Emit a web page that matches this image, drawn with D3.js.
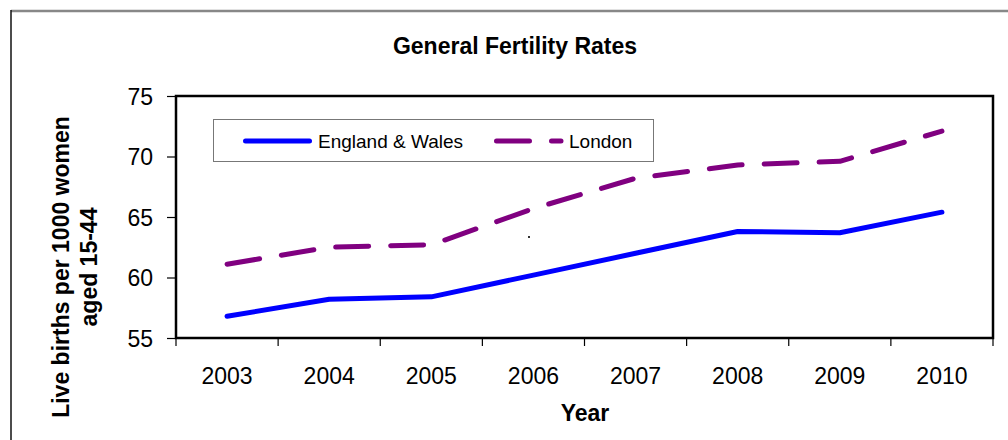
<!DOCTYPE html>
<html>
<head>
<meta charset="utf-8">
<script src="https://cdn.jsdelivr.net/npm/d3@7"></script>
<style>
  html, body { margin: 0; padding: 0; background: #fff; }
  svg { display: block; font-family: "Liberation Sans", Arial, sans-serif; }
</style>
</head>
<body>
<svg id="chart" width="1008" height="440"></svg>
<script>
// General fertility rates: live births per 1000 women aged 15-44
const years = ["2003", "2004", "2005", "2006", "2007", "2008", "2009", "2010"];
const englandWales = [56.8, 58.2, 58.4, 60.2, 62.0, 63.8, 63.7, 65.4];
const london = [61.1, 62.5, 62.7, 65.7, 68.2, 69.3, 69.6, 72.1];
const yTicks = [55, 60, 65, 70, 75];
const seriesNames = ["England & Wales", "London"];

const svg = d3.select("#chart");

// Outer chart frame (top and left edges)
svg.append("line").attr("x1", 11).attr("x2", 1008).attr("y1", 11).attr("y2", 11)
  .attr("stroke", "#888").attr("stroke-width", 2.5);
svg.append("line").attr("x1", 11).attr("x2", 11).attr("y1", 10).attr("y2", 440)
  .attr("stroke", "#111").attr("stroke-width", 1.5);

const plot = { left: 176, right: 993, top: 96, bottom: 338 };

const x = d3.scaleBand().domain(years).range([plot.left, plot.right]).padding(0);
const y = d3.scaleLinear().domain([55, 75]).range([plot.bottom, plot.top]);
const cx = d => x(d) + x.bandwidth() / 2;

// Title
svg.append("text").attr("x", 515).attr("y", 54).attr("text-anchor", "middle")
  .attr("font-size", 23).attr("font-weight", "bold").text("General Fertility Rates");

// Y axis
const yAxis = d3.axisLeft(y).tickValues(yTicks).tickSize(9).tickPadding(14).tickFormat(d3.format("d"));
const gy = svg.append("g").attr("transform", `translate(${plot.left},0)`).call(yAxis);
gy.select(".domain").remove();
gy.selectAll(".tick line").attr("stroke", "#000").attr("stroke-width", 1.2);
gy.selectAll(".tick text").attr("font-size", 23).attr("fill", "#000")
  .attr("font-family", "'Liberation Sans', Arial, sans-serif").attr("dy", "0.36em");

// X axis: ticks on category boundaries, labels at category centres
const boundaries = years.map(d => x(d)).concat([x(years[years.length - 1]) + x.bandwidth()]);
svg.append("g").selectAll("line").data(boundaries).join("line")
  .attr("x1", d => d).attr("x2", d => d)
  .attr("y1", plot.bottom).attr("y2", plot.bottom + 8)
  .attr("stroke", "#000").attr("stroke-width", 1.2);
svg.append("g").selectAll("text").data(years).join("text")
  .attr("x", d => cx(d)).attr("y", 384).attr("text-anchor", "middle")
  .attr("font-size", 23).text(d => d);

// Plot area border
svg.append("rect").attr("x", plot.left).attr("y", plot.top)
  .attr("width", plot.right - plot.left).attr("height", plot.bottom - plot.top)
  .attr("fill", "none").attr("stroke", "#000").attr("stroke-width", 2.5);

// Axis titles
svg.append("text").attr("x", 585).attr("y", 421).attr("text-anchor", "middle")
  .attr("font-size", 23).attr("font-weight", "bold").text("Year");
const yt = svg.append("text").attr("transform", "translate(0,267) rotate(-90)")
  .attr("text-anchor", "middle").attr("font-size", 23).attr("font-weight", "bold");
yt.append("tspan").attr("x", 0).attr("y", 69).text("Live births per 1000 women");
yt.append("tspan").attr("x", 0).attr("y", 97).text("aged 15-44");

// Series lines
const line = d3.line().x((d, i) => cx(years[i])).y(d => y(d));
svg.append("path").datum(englandWales).attr("d", line)
  .attr("fill", "none").attr("stroke", "#0000ff").attr("stroke-width", 5)
  .attr("stroke-linejoin", "round").attr("stroke-linecap", "round");
svg.append("path").datum(london).attr("d", line)
  .attr("fill", "none").attr("stroke", "#800080").attr("stroke-width", 5)
  .attr("stroke-dasharray", "33,22")
  .attr("stroke-linejoin", "round").attr("stroke-linecap", "round");

// Small stray mark inside the plot
svg.append("rect").attr("x", 528).attr("y", 236).attr("width", 2).attr("height", 2).attr("fill", "#333");

// Legend
const lg = svg.append("g");
lg.append("rect").attr("x", 213.5).attr("y", 119.5).attr("width", 440).attr("height", 42)
  .attr("fill", "#fff").attr("stroke", "#777").attr("stroke-width", 1);
lg.append("line").attr("x1", 245.5).attr("x2", 309.5).attr("y1", 141).attr("y2", 141)
  .attr("stroke", "#0000ff").attr("stroke-width", 5).attr("stroke-linecap", "round");
lg.append("text").attr("x", 318).attr("y", 148).attr("font-size", 19).text(seriesNames[0]);
lg.append("line").attr("x1", 496.5).attr("x2", 561).attr("y1", 141).attr("y2", 141)
  .attr("stroke", "#800080").attr("stroke-width", 5).attr("stroke-linecap", "round")
  .attr("stroke-dasharray", "33,22");
lg.append("text").attr("x", 569).attr("y", 148).attr("font-size", 19).text(seriesNames[1]);
</script>
</body>
</html>
